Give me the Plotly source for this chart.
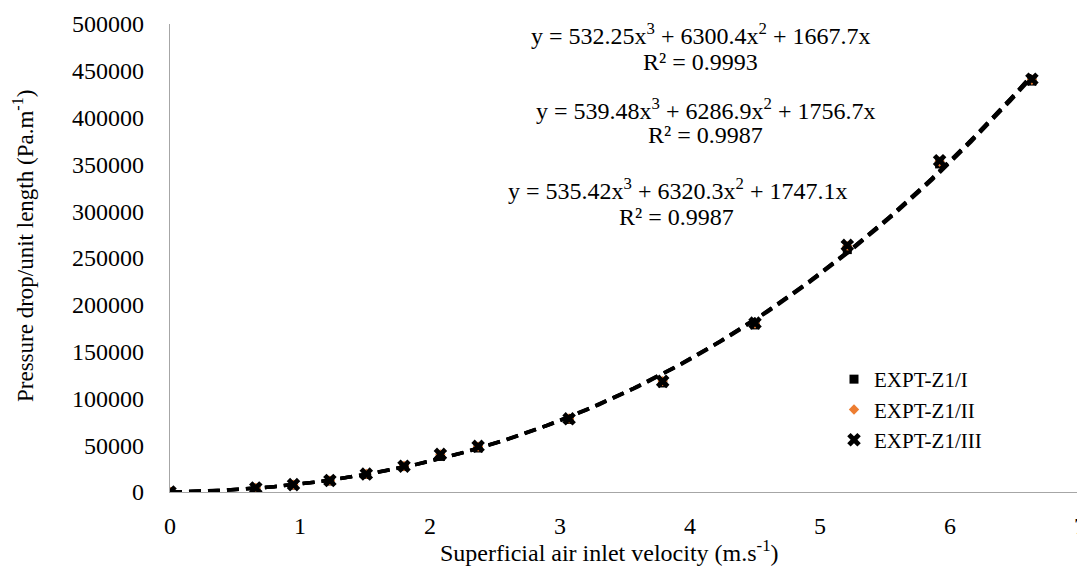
import numpy as np
import plotly.graph_objects as go

# ---- data ----
velocity = [0, 0.66, 0.95, 1.23, 1.51, 1.80, 2.08, 2.37, 3.07, 3.79, 4.50, 5.21, 5.92, 6.63]
expt_I   = [0, 3900, 7400, 11800, 18800, 27200, 38000, 47000, 77500, 116500, 178500, 259000, 350500, 439000]
expt_II  = [0, 4200, 7700, 12100, 19400, 27800, 40000, 48500, 78500, 118500, 180000, 262500, 353000, 440500]
expt_III = [0, 4300, 7900, 12300, 19200, 27600, 40200, 48800, 78200, 118200, 180500, 263500, 354000, 441000]

series_names = ["EXPT-Z1/I", "EXPT-Z1/II", "EXPT-Z1/III"]
# trendline coefficients (a3, a2, a1) as displayed
coef_I   = [532.25, 6300.4, 1667.7]
coef_II  = [539.48, 6286.9, 1756.7]
coef_III = [535.42, 6320.3, 1747.1]
r2_vals  = ["0.9993", "0.9987", "0.9987"]

x_ticks = [0, 1, 2, 3, 4, 5, 6, 7]
y_ticks = [0, 50000, 100000, 150000, 200000, 250000, 300000, 350000, 400000, 450000, 500000]

FONT = "Liberation Serif, Times New Roman, serif"
OFF = 8  # page body margin
W, H = 1085, 569 - OFF
L, T = 170 - OFF, 24 - OFF
R = W - (1080 - OFF)
B = H - (492 - OFF)
PW, PH = W - L - R, H - T - B

def px_x(p):
    return (p - OFF - L) / PW

def px_y(p):
    return (H - B - (p - OFF)) / PH

fig = go.Figure()

fig.add_trace(go.Scatter(x=velocity, y=expt_I, mode="markers", name=series_names[0],
                         marker=dict(symbol="square", size=9, color="black")))
fig.add_trace(go.Scatter(x=velocity, y=expt_II, mode="markers", name=series_names[1],
                         marker=dict(symbol="diamond", size=8, color="#ED7D31")))
fig.add_trace(go.Scatter(x=velocity, y=expt_III, mode="markers", name=series_names[2],
                         marker=dict(symbol="x", size=12, color="black", line=dict(width=0))))

# polynomial trendlines drawn from the displayed coefficients
xs = np.linspace(0, max(velocity), 200)
for coef in [coef_I, coef_II, coef_III]:
    ys = coef[0] * xs**3 + coef[1] * xs**2 + coef[2] * xs
    fig.add_trace(go.Scatter(x=xs, y=ys, mode="lines", showlegend=False,
                             line=dict(color="black", width=3.5, dash="12px,7px"),
                             hoverinfo="skip"))

fig.update_layout(
    width=W, height=H,
    margin=dict(l=L, r=R, t=T, b=B, autoexpand=False),
    paper_bgcolor="white", plot_bgcolor="white",
    font=dict(family=FONT, size=24, color="black"),
    showlegend=True,
    legend=dict(x=px_x(834), y=px_y(359), xanchor="left", yanchor="top",
                font=dict(family=FONT, size=21, color="black"),
                bgcolor="rgba(0,0,0,0)", itemwidth=30, tracegroupgap=0),
)

fig.update_xaxes(range=[0, 7], tickvals=x_ticks, showgrid=False, zeroline=False,
                 showline=True, linecolor="#A6A6A6", linewidth=1.3, ticks="",
                 automargin=False, ticklabeloverflow="allow",
                 ticklabelstandoff=12, tickfont=dict(family=FONT, size=24, color="black"))
fig.update_yaxes(range=[0, 500000], tickvals=y_ticks, showgrid=False, zeroline=False,
                 showline=True, linecolor="#A6A6A6", linewidth=1.3, ticks="",
                 automargin=False, ticklabeloverflow="allow",
                 ticklabelstandoff=20, tickformat="d",
                 tickfont=dict(family=FONT, size=24, color="black"))

annots = []
eq_lines = [
    ("y = 532.25x<sup>3</sup> + 6300.4x<sup>2</sup> + 1667.7x", 700, 34),
    ("R² = " + r2_vals[0], 700, 62),
    ("y = 539.48x<sup>3</sup> + 6286.9x<sup>2</sup> + 1756.7x", 705, 109),
    ("R² = " + r2_vals[1], 705, 135),
    ("y = 535.42x<sup>3</sup> + 6320.3x<sup>2</sup> + 1747.1x", 677, 189),
    ("R² = " + r2_vals[2], 676, 217),
]
for txt, cx, cy in eq_lines:
    annots.append(dict(text=txt, x=px_x(cx), y=px_y(cy), xref="paper", yref="paper",
                       xanchor="center", yanchor="middle", showarrow=False,
                       font=dict(family=FONT, size=24, color="black")))

annots.append(dict(text="Superficial air inlet velocity (m.s<sup>-1</sup>)",
                   x=px_x(609), y=px_y(551), xref="paper", yref="paper",
                   xanchor="center", yanchor="middle", showarrow=False,
                   font=dict(family=FONT, size=24, color="black")))
annots.append(dict(text="Pressure drop/unit length (Pa.m<sup>-1</sup>)",
                   x=px_x(23), y=px_y(246), xref="paper", yref="paper",
                   xanchor="center", yanchor="middle", showarrow=False, textangle=-90,
                   font=dict(family=FONT, size=23, color="black")))
fig.update_layout(annotations=annots)

fig.write_html("out.html")
